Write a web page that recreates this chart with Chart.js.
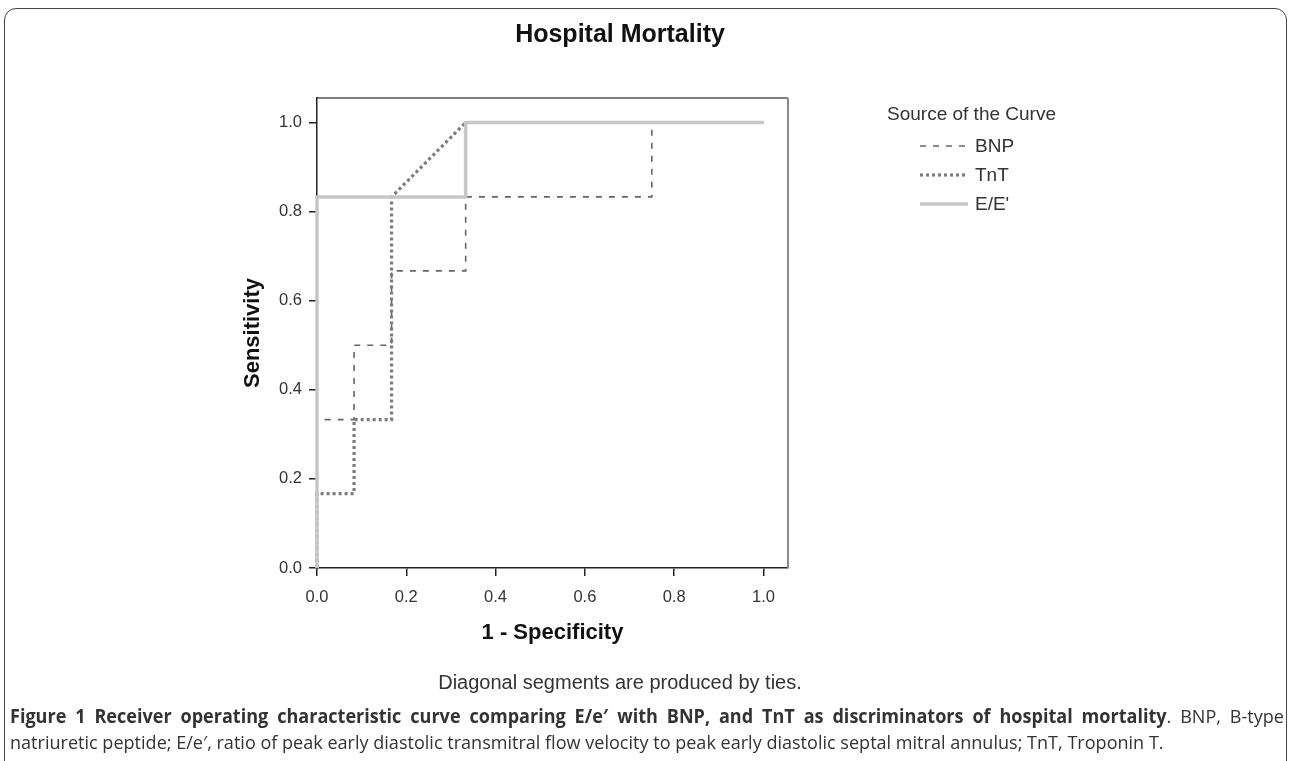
<!DOCTYPE html>
<html>
<head>
<meta charset="utf-8">
<script src="https://cdn.jsdelivr.net/npm/chart.js"></script>
<style>
  html, body { margin: 0; padding: 0; background: #fff; }
  body { width: 1292px; height: 761px; position: relative; overflow: hidden; font-family: 'Liberation Sans', Arial, sans-serif; }
  #frame { position: absolute; left: 4px; top: 8px; width: 1281px; height: 800px; border: 1.5px solid #444; border-radius: 12px; }
  #chart { position: absolute; left: 0; top: 0; }
  #title { position: absolute; left: 420px; width: 400px; top: 19px; text-align: center; font-weight: bold; font-size: 25px; color: #111; }
  #note { position: absolute; left: 370px; width: 500px; top: 671px; text-align: center; font-size: 20px; color: #333; }
  .cap { position: absolute; left: 10px; white-space: nowrap; font-family: 'Open Sans', 'Noto Sans', sans-serif; font-size: 19px; color: #333; transform-origin: 0 0; transform: scaleX(0.95); }
  #cap1 { top: 703px; width: 1341px; text-align: justify; text-align-last: justify; }
  #cap2 { top: 729px; }
</style>
</head>
<body>
<div id="frame"></div>
<canvas id="chart" width="1292" height="761"></canvas>
<div id="title">Hospital Mortality</div>
<div id="note">Diagonal segments are produced by ties.</div>
<div class="cap" id="cap1"><b>Figure 1 Receiver operating characteristic curve comparing E/e′ with BNP, and TnT as discriminators of hospital mortality</b>. BNP, B-type</div>
<div class="cap" id="cap2">natriuretic peptide; E/e′, ratio of peak early diastolic transmitral flow velocity to peak early diastolic septal mitral annulus; TnT, Troponin T.</div>
<script>
// ROC points: 1 - specificity (x) and sensitivity (y)
const bnpX = [0, 0, 0.083, 0.083, 0.167, 0.167, 0.333, 0.333, 0.75, 0.75, 1.0];
const bnpY = [0, 0.333, 0.333, 0.5, 0.5, 0.667, 0.667, 0.833, 0.833, 1.0, 1.0];
const tntX = [0, 0, 0.083, 0.083, 0.167, 0.167, 0.333, 1.0];
const tntY = [0, 0.167, 0.167, 0.333, 0.333, 0.833, 1.0, 1.0];
const eeX = [0, 0, 0.333, 0.333, 1.0];
const eeY = [0, 0.833, 0.833, 1.0, 1.0];

const seriesNames = ['BNP', 'TnT', "E/E'"];
const tickValues = [0, 0.2, 0.4, 0.6, 0.8, 1.0];
const legendTitle = 'Source of the Curve';
const xTitle = '1 - Specificity';
const yTitle = 'Sensitivity';

const pts = (xs, ys) => xs.map((x, i) => ({x: x, y: ys[i]}));

Chart.defaults.font.family = "'Liberation Sans', Arial, sans-serif";
Chart.defaults.color = '#333';

// top and right edges of the plot box
const framePlugin = {
  id: 'frame',
  beforeDatasetsDraw(chart) {
    const {ctx, chartArea: a} = chart;
    ctx.save();
    ctx.lineWidth = 1.5;
    ctx.strokeStyle = '#555';
    ctx.beginPath(); ctx.moveTo(a.left, a.top); ctx.lineTo(a.right, a.top); ctx.stroke();
    ctx.strokeStyle = '#8a8a8a';
    ctx.lineWidth = 2;
    ctx.beginPath(); ctx.moveTo(a.right, a.top); ctx.lineTo(a.right, a.bottom); ctx.stroke();
    ctx.restore();
  }
};

// legend to the right, drawn with each dataset's own line style
const legendPlugin = {
  id: 'curveLegend',
  afterDraw(chart) {
    const ctx = chart.ctx;
    ctx.save();
    ctx.font = "19px 'Liberation Sans', Arial, sans-serif";
    ctx.fillStyle = '#333';
    ctx.textBaseline = 'middle';
    ctx.fillText(legendTitle, 887, 115);
    chart.data.datasets.forEach((ds, i) => {
      const y = 146 + i * 29;
      ctx.strokeStyle = ds.borderColor;
      ctx.lineWidth = ds.borderWidth;
      ctx.setLineDash(ds.borderDash || []);
      ctx.beginPath(); ctx.moveTo(920, y); ctx.lineTo(968, y); ctx.stroke();
      ctx.setLineDash([]);
      ctx.fillText(ds.label, 975, y + 1);
    });
    ctx.restore();
  }
};

const axisOpts = (title, tickPad) => ({
  type: 'linear',
  min: 0,
  max: 1.055,
  afterBuildTicks: s => { s.ticks = tickValues.map(v => ({value: v})); },
  ticks: {
    callback: v => Number(v).toFixed(1),
    font: {size: 16.5},
    color: '#333',
    padding: tickPad,
    maxRotation: 0,
    autoSkip: false
  },
  grid: {display: true, drawOnChartArea: false, drawTicks: true, tickLength: 8, color: '#222', lineWidth: 1.5},
  border: {display: true, color: '#222', width: 1.5},
  title: {display: true, text: title, font: {size: 22, weight: 'bold'}, color: '#111', padding: 0}
});

const xAxis = axisOpts(xTitle, 12);
xAxis.afterFit = s => { s.height = 78; };
const yAxis = axisOpts(yTitle, 7);
yAxis.afterFit = s => { s.width = 77; };

new Chart(document.getElementById('chart'), {
  type: 'line',
  data: {
    datasets: [
      {label: seriesNames[0], data: pts(bnpX, bnpY), borderColor: '#666', borderWidth: 1.6, borderDash: [6, 7], order: 2},
      {label: seriesNames[1], data: pts(tntX, tntY), borderColor: '#7c7c7c', borderWidth: 3.2, borderDash: [3, 3], order: 1},
      {label: seriesNames[2], data: pts(eeX, eeY), borderColor: '#c6c6c6', borderWidth: 3.5, order: 0}
    ]
  },
  options: {
    responsive: false,
    animation: false,
    layout: {padding: {top: 98, left: 240, right: 504, bottom: 115}},
    elements: {point: {radius: 0, hoverRadius: 0}, line: {tension: 0, fill: false, borderCapStyle: 'butt'}},
    datasets: {line: {clip: 8}},
    scales: {x: xAxis, y: yAxis},
    plugins: {legend: {display: false}, tooltip: {enabled: false}, title: {display: false}}
  },
  plugins: [framePlugin, legendPlugin]
});
</script>
</body>
</html>
